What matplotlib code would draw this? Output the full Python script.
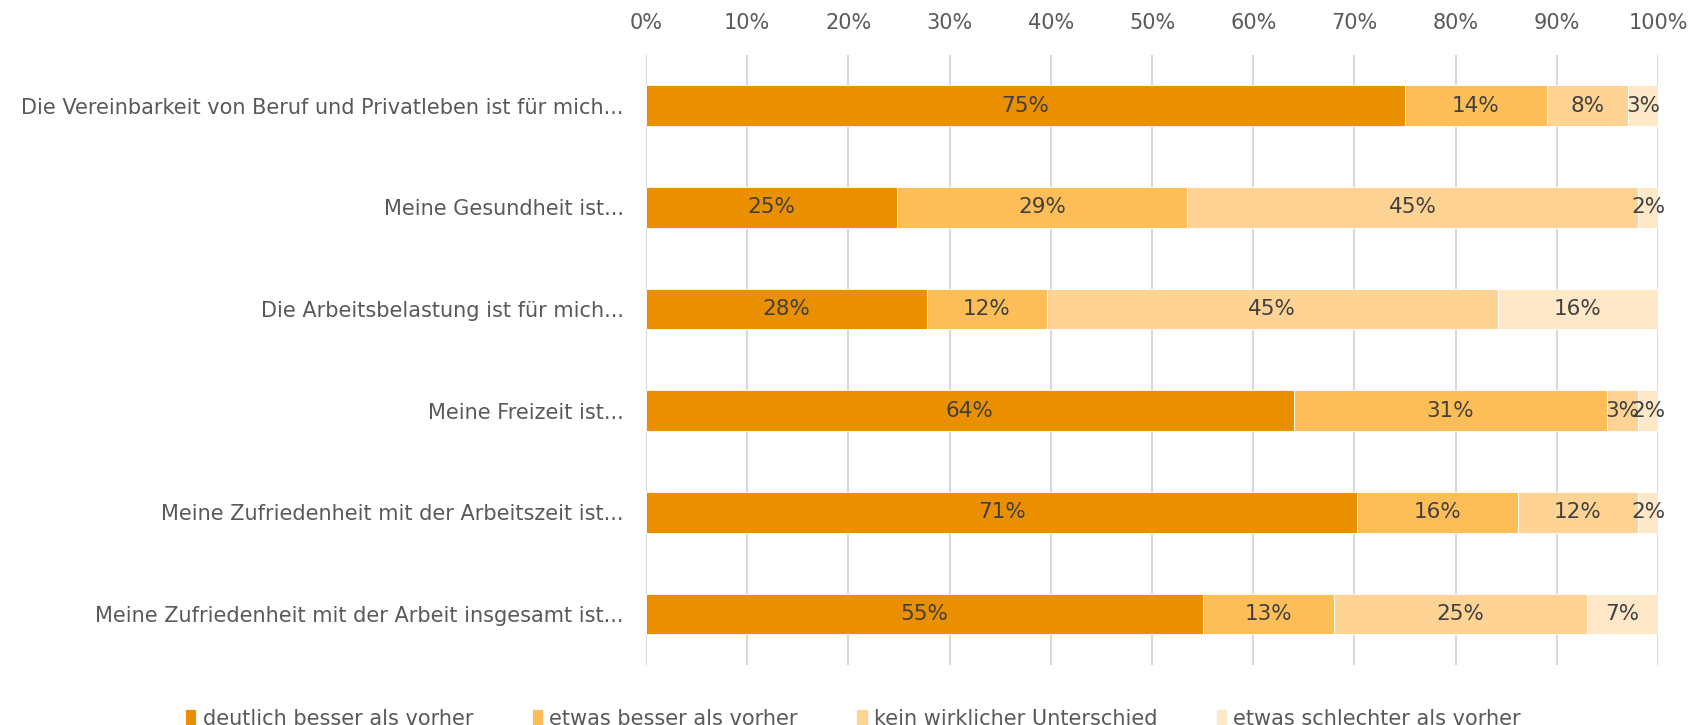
import numpy as np
import matplotlib
matplotlib.use('Agg')
import matplotlib.pyplot as plt
from matplotlib.ticker import PercentFormatter

categories = [
    'Die Vereinbarkeit von Beruf und Privatleben ist für mich...',
    'Meine Gesundheit ist...',
    'Die Arbeitsbelastung ist für mich...',
    'Meine Freizeit ist...',
    'Meine Zufriedenheit mit der Arbeitszeit ist...',
    'Meine Zufriedenheit mit der Arbeit insgesamt ist...',
]
series_names = [
    'deutlich besser als vorher',
    'etwas besser als vorher',
    'kein wirklicher Unterschied',
    'etwas schlechter als vorher',
]
deutlich_besser = [75, 25, 28, 64, 71, 55]
etwas_besser = [14, 29, 12, 31, 16, 13]
kein_unterschied = [8, 45, 45, 3, 12, 25]
etwas_schlechter = [3, 2, 16, 2, 2, 7]

colors = ['#E98F00', '#FDBE58', '#FED394', '#FFE8C8']

values = np.array([deutlich_besser, etwas_besser, kein_unterschied, etwas_schlechter], dtype=float)
# 100% stacked: each row scaled to its own total
shares = values / values.sum(axis=0)

plt.rcParams['font.family'] = ['DejaVu Sans']
fig = plt.figure(figsize=(17.06, 7.25), dpi=100)
ax = fig.add_axes([0.3787, 0.0828, 0.5932, 0.8417])

y = np.arange(len(categories))
left = np.zeros(len(categories))
for i, name in enumerate(series_names):
    bars = ax.barh(y, shares[i], left=left, height=0.4, color=colors[i],
                   edgecolor='white', linewidth=0.6, label=name, zorder=3)
    labels = ['{:.0f}%'.format(v) for v in values[i]]
    ax.bar_label(bars, labels=labels, label_type='center', fontsize=15.5, color='#404040')
    left += shares[i]

ax.set_xlim(0, 1)
ax.set_ylim(len(categories) - 0.5, -0.5)
ax.set_yticks(y)
ax.set_yticklabels(categories)
ax.set_xticks(np.linspace(0, 1, 11))
ax.xaxis.set_major_formatter(PercentFormatter(1.0, decimals=0))
ax.xaxis.tick_top()
ax.tick_params(axis='both', length=0, labelsize=15, colors='#595959')
ax.tick_params(axis='x', pad=16)
ax.tick_params(axis='y', pad=16)
ax.grid(axis='x', color='#D9D9D9', linewidth=1.5, zorder=0)
for s in ax.spines.values():
    s.set_visible(False)

fig.legend(loc='center', bbox_to_anchor=(0.5, 0.008), ncol=4, frameon=False,
           fontsize=15, handlelength=0.55, handleheight=0.9, handletextpad=0.3,
           columnspacing=2.8, labelcolor='#595959')

plt.savefig('out.png', dpi=100)
